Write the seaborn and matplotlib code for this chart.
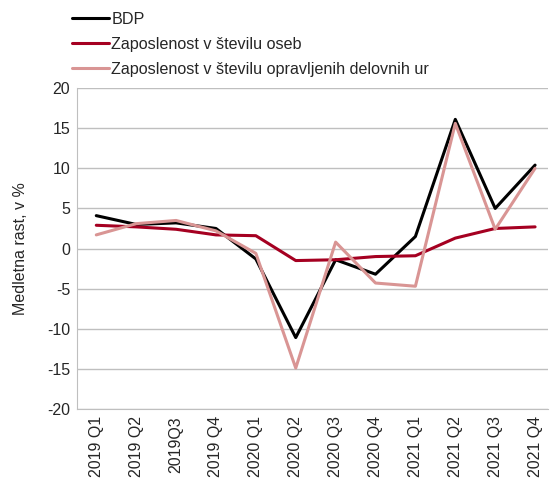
import matplotlib.pyplot as plt
import seaborn as sns
import pandas as pd

sns.set_style("white")
plt.rcParams["font.family"] = ["Liberation Sans", "DejaVu Sans"]
plt.rcParams["axes.unicode_minus"] = False

quarters = ["2019 Q1", "2019 Q2", "2019Q3", "2019 Q4", "2020 Q1", "2020 Q2",
            "2020 Q3", "2020 Q4", "2021 Q1", "2021 Q2", "2021 Q3", "2021 Q4"]
bdp = [4.1, 3.0, 3.2, 2.5, -1.3, -11.1, -1.4, -3.2, 1.5, 16.1, 5.0, 10.4]
osebe = [2.9, 2.7, 2.4, 1.7, 1.6, -1.5, -1.4, -1.0, -0.9, 1.3, 2.5, 2.7]
ure = [1.7, 3.1, 3.5, 2.2, -0.6, -14.9, 0.8, -4.3, -4.7, 15.6, 2.4, 10.0]

names = ["BDP", "Zaposlenost v številu oseb",
         "Zaposlenost v številu opravljenih delovnih ur"]
colors = ["#000000", "#A50021", "#D99594"]

df = pd.concat([
    pd.DataFrame({"q": quarters, "v": vals, "s": name})
    for name, vals in zip(names, [bdp, osebe, ure])
])

fig, ax = plt.subplots(figsize=(5.51, 4.84), dpi=100)
fig.subplots_adjust(left=0.14, right=0.995, top=0.818, bottom=0.155)

sns.lineplot(data=df, x="q", y="v", hue="s", hue_order=names,
             palette=colors, linewidth=2.2, sort=False, ax=ax)

ax.set_ylim(-20, 20)
ax.set_yticks(range(-20, 21, 5))
ax.set_xlim(-0.48, 11.33)
ax.yaxis.grid(True, color="#BFBFBF", linewidth=1)
ax.set_axisbelow(True)
for s in ["top", "right"]:
    ax.spines[s].set_visible(False)
for s in ["left", "bottom"]:
    ax.spines[s].set_color("#BFBFBF")
ax.tick_params(axis="both", length=0, labelsize=11.5, pad=5)
ax.tick_params(axis="x", rotation=90)
ax.set_xlabel("")
ax.set_ylabel("Medletna rast, v %", fontsize=11.5, labelpad=14)

ax.legend(loc="lower left", bbox_to_anchor=(-0.025, 1.015), frameon=False,
          fontsize=11.6, handlelength=2.3, handletextpad=0.15,
          labelspacing=0.62, borderaxespad=0)

fig.savefig("out.png", dpi=100)
